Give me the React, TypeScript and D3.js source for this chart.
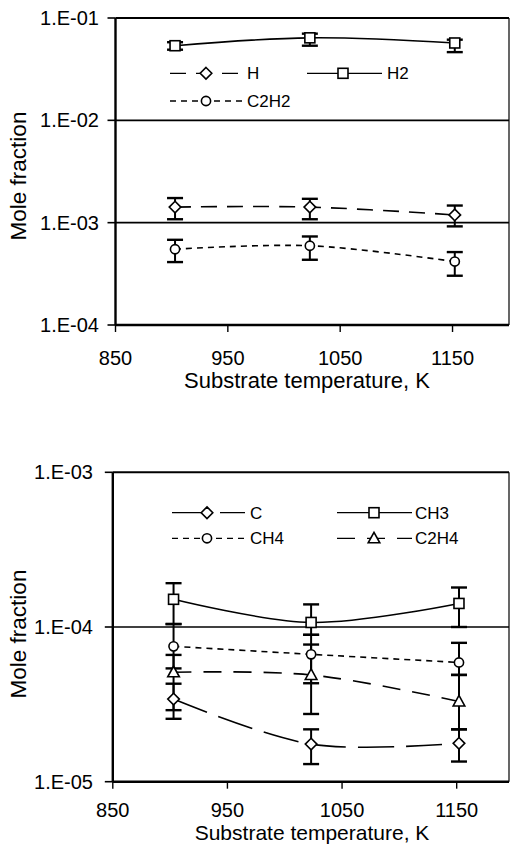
import React from "react";
import * as d3 from "d3";

// ---------- data ----------
const temps = [903, 1023, 1152];
const xTicks = [850, 950, 1050, 1150];

// top panel
const topYTicks = [1e-4, 1e-3, 1e-2, 1e-1];
const topYLabels = ["1.E-04", "1.E-03", "1.E-02", "1.E-01"];
const hVals = [1.42e-3, 1.42e-3, 1.19e-3];
const hLo = [1.08e-3, 1.08e-3, 9.2e-4];
const hHi = [1.74e-3, 1.71e-3, 1.47e-3];
const h2Vals = [0.0536, 0.064, 0.057];
const h2Lo = [0.049, 0.0536, 0.0464];
const h2Hi = [0.058, 0.0703, 0.0614];
const c2h2Vals = [5.5e-4, 5.95e-4, 4.17e-4];
const c2h2Lo = [4.12e-4, 4.34e-4, 3.03e-4];
const c2h2Hi = [6.8e-4, 7.33e-4, 5.16e-4];

// bottom panel
const botYTicks = [1e-5, 1e-4, 1e-3];
const botYLabels = ["1.E-05", "1.E-04", "1.E-03"];
const cVals = [3.42e-5, 1.75e-5, 1.77e-5];
const cLo = [2.55e-5, 1.3e-5, 1.35e-5];
const cHi = [4.3e-5, 2.18e-5, 2.18e-5];
const ch3Vals = [1.51e-4, 1.07e-4, 1.42e-4];
const ch3Lo = [1.045e-4, 8.9e-5, 1.0e-4];
const ch3Hi = [1.92e-4, 1.4e-4, 1.8e-4];
const ch4Vals = [7.5e-5, 6.66e-5, 5.9e-5];
const ch4Lo = [5.4e-5, 4.33e-5, 4.9e-5];
const ch4Hi = [1.045e-4, 8.9e-5, 7.9e-5];
const c2h4Vals = [5.1e-5, 4.9e-5, 3.3e-5];
const c2h4Lo = [2.9e-5, 2.74e-5, 2.18e-5];
const c2h4Hi = [6.6e-5, 7.7e-5, 4.9e-5];

type Series = {
  name: string;
  vals: number[];
  lo: number[];
  hi: number[];
  marker: "diamond" | "square" | "circle" | "triangle";
  dash: string | null;
  legend: { col: number; row: number };
};

const topSeries: Series[] = [
  { name: "H", vals: hVals, lo: hLo, hi: hHi, marker: "diamond", dash: "16,10", legend: { col: 0, row: 0 } },
  { name: "H2", vals: h2Vals, lo: h2Lo, hi: h2Hi, marker: "square", dash: null, legend: { col: 1, row: 0 } },
  { name: "C2H2", vals: c2h2Vals, lo: c2h2Lo, hi: c2h2Hi, marker: "circle", dash: "6,5", legend: { col: 0, row: 1 } },
];

const botSeries: Series[] = [
  { name: "C", vals: cVals, lo: cLo, hi: cHi, marker: "diamond", dash: "36,12", legend: { col: 0, row: 0 } },
  { name: "CH3", vals: ch3Vals, lo: ch3Lo, hi: ch3Hi, marker: "square", dash: null, legend: { col: 1, row: 0 } },
  { name: "CH4", vals: ch4Vals, lo: ch4Lo, hi: ch4Hi, marker: "circle", dash: "6,5", legend: { col: 0, row: 1 } },
  { name: "C2H4", vals: c2h4Vals, lo: c2h4Lo, hi: c2h4Hi, marker: "triangle", dash: "18,12", legend: { col: 1, row: 1 } },
];

const FONT = "'Liberation Sans', Arial, Helvetica, sans-serif";

function Marker({ type, x, y }: { type: string; x: number; y: number }) {
  const common = { fill: "#fff", stroke: "#000", strokeWidth: 1.6 };
  if (type === "square") return <rect x={x - 5} y={y - 5} width={10} height={10} {...common} />;
  if (type === "circle") return <circle cx={x} cy={y} r={4.6} {...common} />;
  if (type === "diamond")
    return <path d={`M${x},${y - 5.8}L${x + 5.8},${y}L${x},${y + 5.8}L${x - 5.8},${y}Z`} {...common} />;
  return <path d={`M${x},${y - 6}L${x + 5.8},${y + 4.5}L${x - 5.8},${y + 4.5}Z`} {...common} />;
}

type PanelProps = {
  series: Series[];
  yDomain: [number, number];
  yRange: [number, number];
  xRange: [number, number];
  yTicks: number[];
  yLabels: string[];
  yLabelRight: number;
  frameRight: number;
  tickBaseline: number;
  titleBaseline: number;
  titleSize: number;
  titleX: number;
  yTitleY: number;
  legendCols: { x1: number; x2: number; mx: number; tx: number }[];
  legendRows: number[];
};

function Panel(p: PanelProps) {
  const x = d3.scaleLinear().domain([850, 1200]).range(p.xRange);
  const y = d3.scaleLog().domain(p.yDomain).range(p.yRange);
  const left = p.xRange[0];
  const bottom = p.yRange[0];
  const top = p.yRange[1];
  const line = d3
    .line<number>()
    .x((_, i) => x(temps[i]))
    .y((v) => y(v))
    .curve(d3.curveCatmullRom.alpha(0.5));

  return (
    <g>
      {/* gridlines */}
      {p.yTicks.slice(1, -1).map((t) => (
        <line key={"g" + t} x1={left} x2={p.frameRight} y1={y(t)} y2={y(t)} stroke="#000" strokeWidth={1.6} />
      ))}
      {/* frame */}
      <line x1={left} x2={p.frameRight} y1={top} y2={top} stroke="#000" strokeWidth={2} />
      <line x1={p.frameRight} x2={p.frameRight} y1={top} y2={bottom} stroke="#000" strokeWidth={1.2} />
      <line x1={left} x2={p.frameRight} y1={bottom} y2={bottom} stroke="#000" strokeWidth={2.4} />
      <line x1={left} x2={left} y1={top} y2={bottom} stroke="#000" strokeWidth={2.4} />
      {/* y ticks */}
      {p.yTicks.map((t, i) => (
        <g key={"yt" + t}>
          <line x1={left - 8} x2={left} y1={y(t)} y2={y(t)} stroke="#000" strokeWidth={1.6} />
          <text x={p.yLabelRight} y={y(t) + 7} textAnchor="end" fontSize={20} fontFamily={FONT}>
            {p.yLabels[i]}
          </text>
        </g>
      ))}
      {/* x ticks */}
      {xTicks.map((t) => (
        <g key={"xt" + t}>
          <line x1={x(t)} x2={x(t)} y1={bottom} y2={bottom + 7} stroke="#000" strokeWidth={1.4} />
          <text x={x(t)} y={p.tickBaseline} textAnchor="middle" fontSize={20} fontFamily={FONT}>
            {t}
          </text>
        </g>
      ))}
      <text x={p.titleX} y={p.titleBaseline} textAnchor="middle" fontSize={p.titleSize} fontFamily={FONT}>
        Substrate temperature, K
      </text>
      <text
        transform={`translate(26,${p.yTitleY}) rotate(-90)`}
        textAnchor="middle"
        fontSize={22.5}
        fontFamily={FONT}
      >
        Mole fraction
      </text>
      {/* series lines */}
      {p.series.map((s) => (
        <path
          key={"l" + s.name}
          d={line(s.vals) || ""}
          fill="none"
          stroke="#000"
          strokeWidth={1.6}
          strokeDasharray={s.dash || undefined}
        />
      ))}
      {/* error bars */}
      {p.series.map((s) =>
        s.vals.map((_, i) => {
          const cx = x(temps[i]);
          return (
            <g key={"e" + s.name + i}>
              <line x1={cx} x2={cx} y1={y(s.lo[i])} y2={y(s.hi[i])} stroke="#000" strokeWidth={2} />
              <line x1={cx - 8} x2={cx + 8} y1={y(s.lo[i])} y2={y(s.lo[i])} stroke="#000" strokeWidth={2.4} />
              <line x1={cx - 8} x2={cx + 8} y1={y(s.hi[i])} y2={y(s.hi[i])} stroke="#000" strokeWidth={2.4} />
            </g>
          );
        })
      )}
      {/* markers */}
      {p.series.map((s) =>
        s.vals.map((v, i) => <Marker key={"m" + s.name + i} type={s.marker} x={x(temps[i])} y={y(v)} />)
      )}
      {/* legend */}
      {p.series.map((s) => {
        const c = p.legendCols[s.legend.col];
        const ry = p.legendRows[s.legend.row];
        return (
          <g key={"lg" + s.name}>
            <line
              x1={c.x1}
              x2={c.x2}
              y1={ry}
              y2={ry}
              stroke="#000"
              strokeWidth={1.3}
              strokeDasharray={s.dash || undefined}
            />
            <Marker type={s.marker} x={c.mx} y={ry} />
            <text x={c.tx} y={ry + 6} fontSize={17} fontFamily={FONT}>
              {s.name}
            </text>
          </g>
        );
      })}
    </g>
  );
}

export default function App() {
  return (
    <svg
      width={510}
      height={845}
      style={{ position: "absolute", left: 0, top: 0, background: "#fff" }}
    >
      <rect x={0} y={0} width={510} height={845} fill="#fff" />
      <Panel
        series={topSeries}
        yDomain={[1e-4, 1e-1]}
        yRange={[325, 18]}
        xRange={[115.5, 508.7]}
        yTicks={topYTicks}
        yLabels={topYLabels}
        yLabelRight={99}
        frameRight={509}
        tickBaseline={365}
        titleBaseline={388}
        titleSize={22}
        titleX={307}
        yTitleY={176}
        legendCols={[
          { x1: 170, x2: 242, mx: 206, tx: 247 },
          { x1: 307, x2: 382, mx: 343, tx: 387 },
        ]}
        legendRows={[73.3, 101]}
      />
      <Panel
        series={botSeries}
        yDomain={[1e-5, 1e-3]}
        yRange={[781.7, 472.3]}
        xRange={[112.8, 514]}
        yTicks={botYTicks}
        yLabels={botYLabels}
        yLabelRight={93}
        frameRight={509}
        tickBaseline={816.5}
        titleBaseline={840}
        titleSize={21}
        titleX={312}
        yTitleY={634}
        legendCols={[
          { x1: 172, x2: 245, mx: 207, tx: 250 },
          { x1: 337, x2: 412, mx: 374, tx: 415 },
        ]}
        legendRows={[512.7, 538.3]}
      />
    </svg>
  );
}
